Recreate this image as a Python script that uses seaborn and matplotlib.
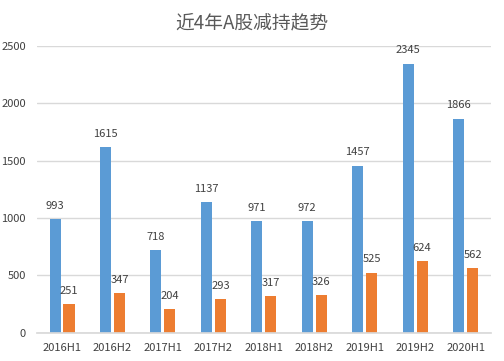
import matplotlib
matplotlib.use("Agg")
import matplotlib.pyplot as plt
import seaborn as sns
import pandas as pd

categories = ["2016H1", "2016H2", "2017H1", "2017H2", "2018H1", "2018H2", "2019H1", "2019H2", "2020H1"]
series_a = [993, 1615, 718, 1137, 971, 972, 1457, 2345, 1866]
series_b = [251, 347, 204, 293, 317, 326, 525, 624, 562]
series_names = ["A", "B"]
colors = ["#5B9BD5", "#ED7D31"]

sns.set_theme(style="white")
plt.rcParams['font.family'] = ['Noto Sans CJK SC', 'DejaVu Sans']

df = pd.DataFrame({
    "cat": categories * 2,
    "val": series_a + series_b,
    "series": [series_names[0]] * len(categories) + [series_names[1]] * len(categories),
})

fig = plt.figure(figsize=(5.04, 3.61), dpi=100)
ax = fig.add_axes([0.073, 0.078, 0.901, 0.795])
sns.barplot(data=df, x="cat", y="val", hue="series", palette=colors, width=0.554, gap=0.21,
            order=categories, hue_order=series_names, ax=ax, legend=False, saturation=1,
            linewidth=0, edgecolor="none")

ax.set_ylim(0, 2500)
ax.set_yticks(range(0, 2501, 500))
ax.yaxis.grid(True, color="#D9D9D9", linewidth=1)
ax.set_axisbelow(True)
for s in ["top", "right", "left"]:
    ax.spines[s].set_visible(False)
ax.spines["bottom"].set_color("#D9D9D9")
ax.tick_params(axis="both", length=0, labelsize=8, colors="#404040")
ax.tick_params(axis="y", pad=8)
ax.tick_params(axis="x", pad=7)
ax.set_xlabel("")
ax.set_ylabel("")

conts = ax.containers
ax.bar_label(conts[0], labels=[str(v) for v in series_a], padding=6, fontsize=8, color="#404040")
ax.bar_label(conts[1], labels=[str(v) for v in series_b], padding=6, fontsize=8, color="#404040")

fig.suptitle("近4年A股减持趋势", y=0.965, fontsize=13.5, color="#595959")

fig.savefig("out.png", dpi=100)
